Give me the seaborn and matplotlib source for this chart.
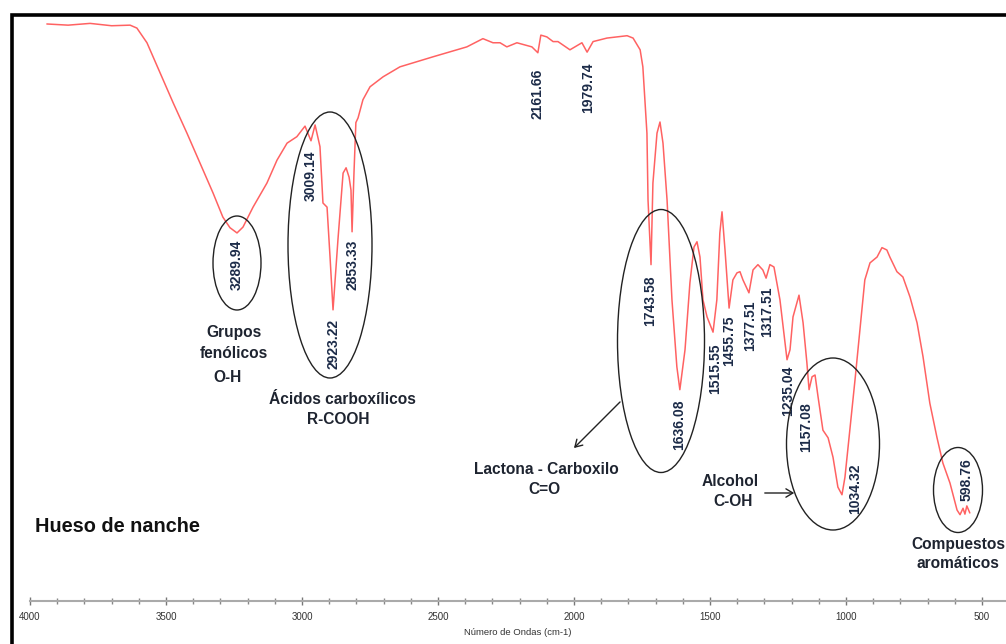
import numpy as np
import pandas as pd
import matplotlib
matplotlib.use("Agg")
import matplotlib.pyplot as plt
from matplotlib.patches import Ellipse, Rectangle, FancyArrowPatch
import seaborn as sns

# ---- data ----
wavenumber = [3938, 3860, 3779, 3700, 3632, 3607, 3570, 3522, 3474, 3423, 3375, 3327, 3291, 3265,
              3239, 3217, 3180, 3129, 3092, 3055, 3019, 2989, 2967, 2952, 2934, 2923, 2908,
              2897, 2886, 2868, 2849, 2838, 2827, 2820, 2816, 2809, 2802, 2794, 2776, 2750,
              2702, 2640, 2519, 2394, 2335, 2298, 2272, 2247, 2210, 2155, 2133, 2122, 2100,
              2077, 2059, 2015, 1971, 1952, 1930, 1879, 1805, 1783, 1757, 1747, 1732, 1728,
              1717, 1710, 1695, 1684, 1673, 1658, 1640, 1622, 1611, 1592, 1574, 1559, 1548,
              1537, 1526, 1511, 1489, 1475, 1464, 1456, 1445, 1430, 1416, 1401, 1390, 1379,
              1357, 1342, 1324, 1306, 1294, 1280, 1265, 1243, 1217, 1206, 1195, 1173, 1158,
              1144, 1136, 1125, 1114, 1103, 1085, 1066, 1048, 1030, 1015, 1004, 986, 967,
              949, 931, 912, 886, 868, 850, 839, 813, 791, 765, 739, 717, 692, 666, 644, 618,
              592, 581, 570, 563, 556, 545]
transmittance = [98.3, 98.1, 98.4, 98.0, 98.1, 97.6, 95.1, 90.0, 84.9, 79.7, 74.6, 69.5, 65.4, 63.6,
                 62.7, 63.7, 67.1, 71.2, 75.1, 78.0, 79.1, 80.9, 78.4, 81.1, 77.4, 67.8, 67.1,
                 58.6, 49.6, 61.5, 72.9, 73.8, 72.2, 70.0, 62.9, 72.9, 81.5, 82.3, 85.4, 87.6,
                 89.3, 91.0, 92.7, 94.4, 95.8, 95.1, 95.1, 94.4, 95.1, 94.4, 93.4, 96.4, 96.1,
                 95.3, 95.3, 93.9, 95.1, 93.5, 95.3, 95.9, 96.3, 95.9, 93.9, 91.0, 79.7, 68.3,
                 57.3, 71.2, 79.7, 81.6, 78.0, 68.3, 51.3, 39.9, 36.0, 42.8, 54.2, 60.3, 61.2,
                 58.6, 51.3, 48.4, 45.8, 51.3, 62.7, 66.3, 59.8, 49.9, 54.7, 55.9, 56.1, 54.7,
                 52.5, 56.4, 57.3, 56.4, 55.0, 57.3, 56.9, 51.3, 41.1, 42.8, 48.4, 52.1, 47.4,
                 40.6, 36.0, 38.2, 38.5, 34.8, 29.1, 27.8, 24.5, 19.4, 18.1, 21.1, 29.1, 37.7,
                 46.2, 54.7, 57.6, 58.6, 60.2, 59.8, 58.6, 56.1, 55.2, 51.8, 47.4, 41.6, 33.7,
                 27.9, 23.5, 20.1, 15.5, 14.7, 15.8, 14.8, 16.2, 15.0]

peak_labels = ["3289.94", "3009.14", "2923.22", "2853.33", "2161.66", "1979.74", "1743.58",
               "1636.08", "1515.55", "1455.75", "1377.51", "1317.51", "1235.04", "1157.08",
               "1034.32", "598.76"]
peak_label_x = [3239, 2967, 2886, 2813, 2133, 1949, 1721, 1614, 1482, 1430, 1353, 1291,
                1214, 1147, 967, 556]
peak_label_y = [57.3, 72.4, 43.8, 57.3, 86.4, 87.4, 51.1, 30.0, 39.5, 44.3, 46.9, 49.2,
                35.8, 29.6, 19.1, 20.6]

tick_values = [4000, 3500, 3000, 2500, 2000, 1500, 1000, 500]
x_label = "Número de Ondas (cm-1)"
sample_name = "Hueso de nanche"

df = pd.DataFrame({"w": wavenumber, "T": transmittance})

sns.set_style("white")
plt.rcParams["font.family"] = ["Liberation Sans", "DejaVu Sans"]

W, H = 1006, 644
fig = plt.figure(figsize=(W / 100, H / 100), dpi=100)
ax = fig.add_axes([30 / W, (H - 601) / H, (W - 30) / W, (601 - 14) / H])

sns.lineplot(data=df, x="w", y="T", ax=ax, color="#ff6262", linewidth=1.1,
             estimator=None, sort=False)

ax.set_xlim(4000, 412)
ax.set_ylim(0, 100)
ax.set_xticks(tick_values)
ax.set_xticklabels([str(t) for t in tick_values], fontsize=7, color="#333333")
ax.set_xticks(np.arange(3900, 400, -100), minor=True)
ax.tick_params(axis="x", which="both", bottom=True)
ax.tick_params(axis="x", which="major", direction="inout", length=6, width=1, color="#777777", pad=5)
ax.tick_params(axis="x", which="minor", direction="inout", length=4, width=1, color="#888888")
ax.set_yticks([])
ax.set_xlabel(x_label, fontsize=6.8, color="#333333", labelpad=4)
ax.set_ylabel("")
for s in ["top", "left", "right"]:
    ax.spines[s].set_visible(False)
ax.spines["bottom"].set_color("#aaaaaa")
ax.spines["bottom"].set_linewidth(1.5)
ax.patch.set_alpha(0)

lab_color = "#1c2b48"
for lab, lx, ly in zip(peak_labels, peak_label_x, peak_label_y):
    ax.text(lx, ly, lab, rotation=90, ha="center", va="center", fontsize=10,
            fontweight="bold", color=lab_color)


def px(x, y):
    return (x / W, 1 - y / H)


# frame around the plot
fig.add_artist(Rectangle(px(11.5, 700), (W + 50) / W, (700 - 15) / H, transform=fig.transFigure,
                         fill=False, edgecolor="black", linewidth=2.6, clip_on=False))

# ellipses
for cx, cy, ew, eh in [(237, 263, 48, 94), (330, 245, 84, 266), (661, 341, 87, 263),
                       (833, 444, 93, 172), (958, 490, 49, 85)]:
    fig.add_artist(Ellipse(px(cx, cy), ew / W, eh / H, transform=fig.transFigure,
                           fill=False, edgecolor="#222222", linewidth=1.0))

# arrows
fig.add_artist(FancyArrowPatch(px(622, 400), px(572, 450), transform=fig.transFigure,
                               arrowstyle="->,head_length=5,head_width=3", color="#222222",
                               linewidth=1.0))
fig.add_artist(FancyArrowPatch(px(762, 493), px(797, 493), transform=fig.transFigure,
                               arrowstyle="->,head_length=5,head_width=3", color="#222222",
                               linewidth=1.0))

txt_color = "#1e2430"
group_texts = [("Grupos", 234, 333), ("fenólicos", 234, 354), ("O-H", 228, 377),
               ("Ácidos carboxílicos", 342, 400), ("R-COOH", 338, 420),
               ("Lactona - Carboxilo", 546, 470), ("C=O", 544, 490),
               ("Alcohol", 730, 482), ("C-OH", 733, 502),
               ("Compuestos", 958, 545), ("aromáticos", 958, 563)]
for t, x, y in group_texts:
    fig.text(*px(x, y), t, ha="center", va="center", fontsize=11.2, fontweight="bold",
             color=txt_color)

fig.text(*px(35, 527), sample_name, ha="left", va="center", fontsize=14.3,
         fontweight="bold", color="#111111")

fig.savefig("out.png", dpi=100)
